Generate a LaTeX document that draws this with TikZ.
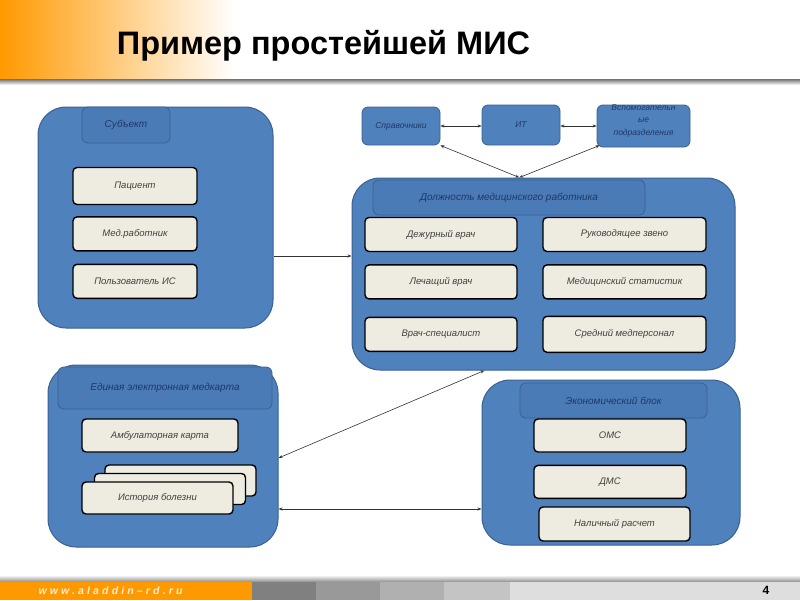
\documentclass[tikz,border=0pt]{standalone}
\usepackage{fontspec}
\setmainfont{Liberation Sans}
\usetikzlibrary{arrows.meta, positioning, calc}

\definecolor{panelblue}{HTML}{4F81BD}
\definecolor{paneledge}{HTML}{3A6190}
\definecolor{headblue}{HTML}{4A7BB7}
\definecolor{cream}{HTML}{EEECE1}
\definecolor{navytext}{HTML}{1F3864}
\definecolor{aladdin}{HTML}{FF9900}

\begin{document}
\begin{tikzpicture}[
    x=1pt, y=-1pt,
    >={Stealth[length=4pt, width=3pt]},
    panel/.style={draw=paneledge, line width=1pt, fill=panelblue, rounded corners=28pt, inner sep=0pt},
    panelhead/.style={draw=paneledge, line width=0.8pt, fill=headblue, rounded corners=6pt, inner sep=0pt,
        font=\fontsize{10}{12}\selectfont\itshape, text=navytext},
    topbox/.style={draw=paneledge, line width=0.8pt, fill=panelblue, rounded corners=6pt, inner sep=0pt,
        minimum width=78pt, minimum height=38pt, font=\fontsize{8.5}{10}\selectfont\itshape, text=navytext},
    entry/.style={draw=black, line width=1.4pt, fill=cream, rounded corners=4pt, inner sep=0pt,
        minimum width=152pt, minimum height=34pt, font=\fontsize{9.5}{11}\selectfont\itshape, text=black!75},
    conn/.style={<->, line width=0.6pt, draw=black!80},
]

% === PAGE ===
\fill[white] (0,0) rectangle (800,600);
\useasboundingbox (0,0) rectangle (800,600);

% header band
\shade[left color=aladdin, right color=white] (0,0) rectangle (235,80);
\shade[top color=black!55, bottom color=white] (0,79) rectangle (800,85);
\node[font=\fontsize{32.5}{35}\selectfont\bfseries, text=black] (title) at (323.5,46) {Пример простейшей МИС};

% footer band
\shade[top color=white, bottom color=black!45] (0,575) rectangle (800,582);
\fill[aladdin] (0,582) rectangle (252,600);
\fill[black!50] (252,582) rectangle (316,600);
\fill[black!40] (316,582) rectangle (380,600);
\fill[black!31] (380,582) rectangle (444,600);
\fill[black!23] (444,582) rectangle (510,600);
\fill[black!13] (510,582) rectangle (800,600);
\node[font=\fontsize{10.5}{12}\selectfont\bfseries\itshape\addfontfeature{LetterSpace=30}, text=orange!15, anchor=west] (site) at (35,591)
    {www.aladdin--rd.ru};
\node[font=\fontsize{12}{13}\selectfont\bfseries] (page) at (766,590) {4};

% === SUBJECT ===
\node[panel, minimum width=235pt, minimum height=221pt] (subj) at (155.5,217.5) {};
\node[panelhead, minimum width=88pt, minimum height=36pt] (subjhead) at (126,125) {Субъект};
\node[entry, minimum width=124pt, minimum height=37pt] (pat) at (135,186) {Пациент};
\node[entry, minimum width=124pt, below=11pt of pat] (med) {Мед.работник};
\node[entry, minimum width=124pt, below=12pt of med] (user) {Пользователь ИС};

% === TOP ROW ===
\node[topbox] (sprav) at (401,126) {Справочники};
\node[topbox, minimum height=40pt] (it) at (521,125) {ИТ};
\node[topbox, minimum width=93pt, minimum height=42pt] (vspom) at (643.5,126) {};
\node[font=\fontsize{8.5}{12.5}\selectfont\itshape, text=navytext, align=center] (vspomtext) at (643.5,120.5)
    {Вспомогательн\\ые\\подразделения};

% === POSITION OF STAFF ===
\node[panel, minimum width=383pt, minimum height=192pt] (dolzh) at (543.5,274) {};
\node[panelhead, minimum width=272pt, minimum height=35pt] (dolzhhead) at (509,197.5) {Должность медицинского работника};
\node[entry] (duty) at (441,234.5) {Дежурный врач};
\node[entry, below=12pt of duty] (treat) {Лечащий врач};
\node[entry, below=17pt of treat] (spec) {Врач-специалист};
\node[entry, minimum width=163pt] (head) at (624.5,234.5) {Руководящее звено};
\node[entry, minimum width=163pt, below=12pt of head] (stat) {Медицинский статистик};
\node[entry, minimum width=163pt, minimum height=36pt, below=16pt of stat] (nurse) {Средний медперсонал};

% === MEDICAL RECORD ===
\node[panel, minimum width=230pt, minimum height=182pt] (emk) at (163,456) {};
\node[panelhead, minimum width=214pt, minimum height=42pt] (emkhead) at (165,388) {Единая электронная медкарта};
\node[entry, minimum width=156pt, minimum height=33pt] (amb) at (160,435.5) {Амбулаторная карта};
\node[entry, minimum width=151pt, minimum height=31pt] (hist3) at (180.5,480.5) {};
\node[entry, minimum width=151pt, minimum height=31pt] (hist2) at (170,489) {};
\node[entry, minimum width=151pt, minimum height=32pt] (hist1) at (157.5,498) {История болезни};

% === ECONOMY ===
\node[panel, minimum width=258pt, minimum height=165pt] (econ) at (611,462.5) {};
\node[panelhead, minimum width=187pt, minimum height=35pt] (econhead) at (613.5,400.5) {Экономический блок};
\node[entry, minimum height=33pt] (oms) at (610,435.5) {ОМС};
\node[entry, minimum height=33pt, below=12pt of oms] (dms) {ДМС};
\node[entry, minimum width=151pt, minimum height=34pt] (cash) at (614.5,524) {Наличный расчет};

% === CONNECTORS ===
\draw[conn, <-] ([yshift=-38.5pt]subj.east -| dolzh.west) -- ([yshift=-38.5pt]subj.east);
\draw[conn] (sprav.east) -- (sprav.east -| it.west);
\draw[conn] ([yshift=-1pt]it.east) -- ([yshift=-1pt]it.east -| vspom.west);
\coordinate (dolzhtop) at ($(dolzh.north west)!0.437!(dolzh.north east)$);
\draw[conn] (sprav.south east) -- (dolzhtop);
\draw[conn] ([xshift=3pt, yshift=2pt]vspom.south west) -- (dolzhtop);
\coordinate (dolzhlow) at ($(dolzh.south west)!0.346!(dolzh.south east)$);
\draw[conn] (dolzhlow) -- ([yshift=-2pt]emk.east);
\draw[conn] ([yshift=-53pt]emk.east) -- ([yshift=-53pt]emk.east -| econ.west);

\end{tikzpicture}
\end{document}
